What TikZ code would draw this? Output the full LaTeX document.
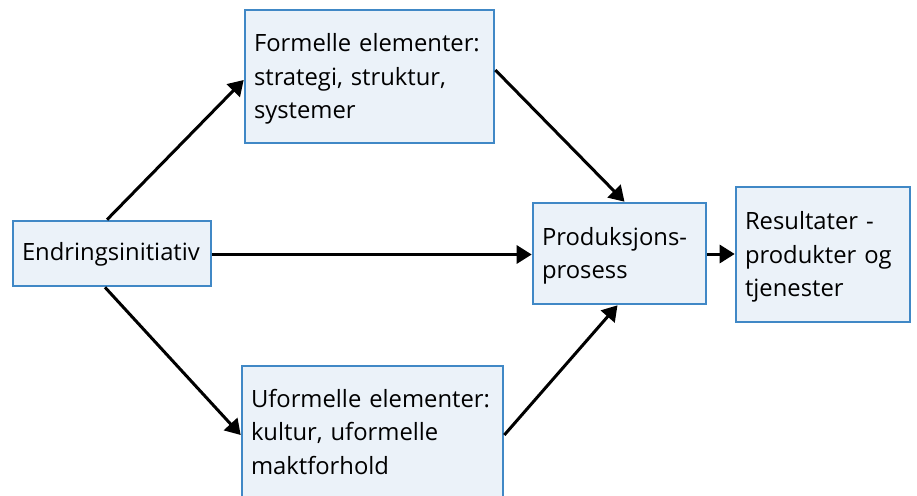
\documentclass[tikz,border=0pt]{standalone}
\usepackage{fontspec}
\setmainfont{Open Sans}
\usetikzlibrary{calc,arrows.meta}
\definecolor{boxline}{RGB}{64,136,198}
\definecolor{boxfill}{RGB}{235,242,249}
\tikzset{
  box/.style={draw=boxline, fill=boxfill, line width=2.6pt, rectangle, inner sep=0pt},
  txt/.style={align=left, inner sep=0pt, font=\fontsize{23.8}{33.5}\selectfont},
  conn/.style={line width=3pt, -{Triangle[length=15pt,width=18pt]}}
}
\begin{document}
\begin{tikzpicture}[x=1pt,y=-1pt]
\useasboundingbox (0,0) rectangle (917,495);
\clip (0,0) rectangle (917,495);
% boxes
\node[box, minimum width=198pt, minimum height=65pt] (E) at (112,253.5) {};
\node[box, minimum width=249pt, minimum height=133pt] (F) at (369.5,76.5) {};
\node[box, minimum width=261pt, minimum height=134pt] (U) at (372.5,433) {};
\node[box, minimum width=173pt, minimum height=101pt] (P) at (619.5,253.5) {};
\node[box, minimum width=174pt, minimum height=135pt] (R) at (823,254.5) {};
% box texts
\node[txt, text width=180pt] (Et) at ($(E)+(0,1)$) {Endringsinitiativ};
\node[txt, text width=231pt] (Ft) at ($(F)+(0,2.5)$) {Formelle elementer:\\strategi, struktur,\\systemer};
\node[txt, text width=243pt] (Ut) at ($(U)+(0,-1)$) {Uformelle elementer:\\kultur, uformelle\\maktforhold};
\node[txt, text width=155pt] (Pt) at ($(P)+(0,2.5)$) {Produksjons-\\prosess};
\node[txt, text width=156pt] (Rt) at ($(R)+(0,2.5)$) {Resultater -\\produkter og\\tjenester};
% connectors
\draw[conn] ($(E.north)+(-5,0)$) -- ($(F.west)+(0,3.5)$);
\draw[conn] ($(E.south)+(-7,0)$) -- ($(U.west)+(0,2)$);
\draw[conn] ($(E.east)+(0,1)$) -- ($(P.west)+(0,1)$);
\draw[conn] ($(F.east)+(0,-6.5)$) -- ($(P.north)+(5,0)$);
\draw[conn] ($(U.east)+(0,2)$) -- ($(P.south)+(-2,0)$);
\draw[conn] ($(P.east)+(0,0.5)$) -- ($(R.west)+(0,-0.5)$);
\end{tikzpicture}
\end{document}
